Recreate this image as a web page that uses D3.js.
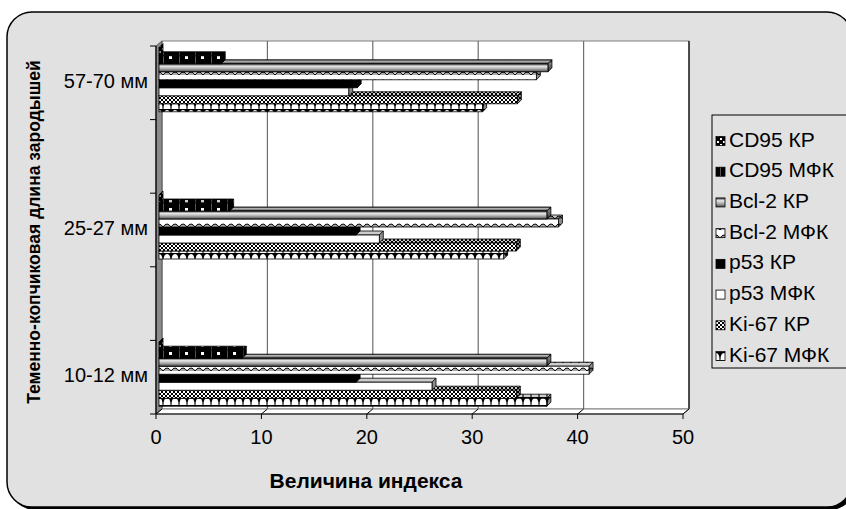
<!DOCTYPE html>
<html><head><meta charset="utf-8">
<script src="https://cdn.jsdelivr.net/npm/d3@7"></script>
<style>body{margin:0;background:#fff}svg{display:block}</style>
</head><body>
<svg id="c" width="846" height="509"></svg>
<script>
// ---- data ----
const categories = ["10-12 мм", "25-27 мм", "57-70 мм"];
const seriesNames = ["CD95 КР", "CD95 МФК", "Bcl-2 КР", "Bcl-2 МФК", "p53 КР", "p53 МФК", "Ki-67 КР", "Ki-67 МФК"];
const cd95KR  = [0, 0, 0];
const cd95MFK = [7.9, 6.7, 5.9];
const bcl2KR  = [36.8, 36.8, 36.9];
const bcl2MFK = [40.8, 37.9, 35.8];
const p53KR   = [18.7, 18.7, 18.8];
const p53MFK  = [25.9, 20.9, 18.0];
const ki67KR  = [33.9, 33.9, 34.0];
const ki67MFK = [36.8, 32.7, 30.7];
const seriesValues = [cd95KR, cd95MFK, bcl2KR, bcl2MFK, p53KR, p53MFK, ki67KR, ki67MFK];
const xTicks = [0, 10, 20, 30, 40, 50];
const xTitle = "Величина индекса";
const yTitle = "Теменно-копчиковая длина зародышей";

const svg = d3.select("#c");
const FONT = "'Liberation Sans', Arial, sans-serif";

// ---- defs / patterns ----
const defs = svg.append("defs");
function pat(id, w, h, build) {
  const p = defs.append("pattern").attr("id", id).attr("patternUnits", "userSpaceOnUse")
    .attr("width", w).attr("height", h);
  build(p); return `url(#${id})`;
}
const fills = [];
fills[0] = pat("pCD95KR", 6, 6, p => {
  p.append("rect").attr("width", 6).attr("height", 6).attr("fill", "#000");
  p.append("rect").attr("x", 0).attr("y", 0).attr("width", 2).attr("height", 2).attr("fill", "#fff");
  p.append("rect").attr("x", 3).attr("y", 3).attr("width", 2).attr("height", 2).attr("fill", "#fff");
});
fills[1] = pat("pCD95MFK", 16, 8, p => {
  p.append("rect").attr("width", 16).attr("height", 8).attr("fill", "#000");
  p.append("rect").attr("x", 6).attr("y", 3).attr("width", 3).attr("height", 3).attr("fill", "#fff");
  p.append("rect").attr("x", 0).attr("y", 0).attr("width", 1).attr("height", 8).attr("fill", "#555");
});
const g1 = defs.append("linearGradient").attr("id", "gBcl").attr("x1", 0).attr("y1", 0).attr("x2", 0).attr("y2", 1);
[[0, "#3a3a3a"], [0.3, "#e8e8e8"], [0.6, "#b0b0b0"], [1, "#4a4a4a"]].forEach(s =>
  g1.append("stop").attr("offset", s[0]).attr("stop-color", s[1]));
fills[2] = "url(#gBcl)";
fills[3] = pat("pBclMFK", 8, 8, p => {
  p.append("rect").attr("width", 8).attr("height", 8).attr("fill", "#fff");
  p.append("path").attr("d", "M0,6 Q4,0 8,6 Z").attr("fill", "#aaa");
  p.append("path").attr("d", "M0,6 Q4,0 8,6").attr("fill", "none").attr("stroke", "#000").attr("stroke-width", 1);
});
fills[4] = "#000";
fills[5] = "#fff";
fills[6] = pat("pKiKR", 4, 4, p => {
  p.append("rect").attr("width", 4).attr("height", 4).attr("fill", "#fff");
  p.append("rect").attr("x", 0).attr("y", 0).attr("width", 2).attr("height", 2).attr("fill", "#000");
  p.append("rect").attr("x", 2).attr("y", 2).attr("width", 2).attr("height", 2).attr("fill", "#000");
});
fills[7] = pat("pKiMFK", 8, 8, p => {
  p.append("rect").attr("width", 8).attr("height", 8).attr("fill", "#000");
  p.append("path").attr("d", "M0.5,8 Q0.5,1 4,1 Q7.5,1 7.5,8 Z").attr("fill", "#fff");
});

// ---- frame ----
svg.append("rect").attr("x", 10).attr("y", 15).attr("width", 845).attr("height", 495).attr("rx", 25).attr("fill", "#000");
svg.append("rect").attr("x", 7).attr("y", 12).attr("width", 845).attr("height", 495).attr("rx", 25)
  .attr("fill", "#e1e1e1").attr("stroke", "#000").attr("stroke-width", 1.5);

// ---- scales ----
const x = d3.scaleLinear().domain([0, 50]).range([156, 683]);
const yTop = 46, yBot = 414;
const DX = 6, DY = -5;        // wall depth
const y = d3.scalePoint().domain(categories.slice().reverse()).range([yTop, yBot]).padding(0.25);
const band = d3.scaleBand().domain(seriesNames).range([-32, 32]);
const BX = 3, BY = -3;        // bar plane offset
const bdx = 4, bdy = -4;      // bar depth

// back wall
svg.append("rect").attr("x", x(0) + DX).attr("y", yTop + DY).attr("width", x(50) - x(0)).attr("height", yBot - yTop)
  .attr("fill", "#fff").attr("stroke", "#808080").attr("stroke-width", 1);
// gridlines
svg.append("g").selectAll("line").data(xTicks.slice(1, -1)).join("line")
  .attr("x1", d => x(d) + DX).attr("x2", d => x(d) + DX)
  .attr("y1", yTop + DY).attr("y2", yBot + DY).attr("stroke", "#6e6e6e").attr("stroke-width", 1.2);
svg.append("line").attr("x1", x(50) + DX).attr("x2", x(50) + DX).attr("y1", yTop + DY).attr("y2", yBot + DY)
  .attr("stroke", "#000").attr("stroke-width", 1.2);
// left wall
svg.append("path").attr("d", `M${x(0)},${yTop}L${x(0) + DX},${yTop + DY}L${x(0) + DX},${yBot + DY}L${x(0)},${yBot}Z`)
  .attr("fill", "#8c8c8c").attr("stroke", "#555").attr("stroke-width", 1);
// floor
svg.append("path").attr("d", `M${x(0)},${yBot}L${x(50)},${yBot}L${x(50) + DX},${yBot + DY}L${x(0) + DX},${yBot + DY}Z`)
  .attr("fill", "#fff").attr("stroke", "#808080").attr("stroke-width", 1);
svg.append("g").selectAll("line").data(xTicks).join("line")
  .attr("x1", d => x(d)).attr("x2", d => x(d) + DX).attr("y1", yBot).attr("y2", yBot + DY)
  .attr("stroke", "#000").attr("stroke-width", 1);

// ---- bars ----
const barsG = svg.append("g").attr("transform", `translate(${BX},${BY})`);
const order = d3.range(seriesNames.length).reverse(); // bottom series first
categories.forEach((cat, ci) => {
  order.forEach(si => {
    const v = seriesValues[si][ci];
    const x0 = x(0), x1 = x(v);
    const yt = y(cat) + band(seriesNames[si]), h = band.bandwidth(), yb = yt + h;
    const g = barsG.append("g");
    const top = `M${x0},${yt}L${x1},${yt}L${x1 + bdx},${yt + bdy}L${x0 + bdx},${yt + bdy}Z`;
    const side = `M${x1},${yt}L${x1 + bdx},${yt + bdy}L${x1 + bdx},${yb + bdy}L${x1},${yb}Z`;
    g.append("path").attr("d", top).attr("fill", fills[si]);
    g.append("path").attr("d", top).attr("fill", "rgba(0,0,0,0.2)").attr("stroke", "#000").attr("stroke-width", 0.8);
    g.append("path").attr("d", side).attr("fill", fills[si]);
    g.append("path").attr("d", side).attr("fill", "rgba(0,0,0,0.45)").attr("stroke", "#000").attr("stroke-width", 0.8);
    g.append("rect").attr("x", x0).attr("y", yt).attr("width", Math.max(0, x1 - x0)).attr("height", h)
      .attr("fill", fills[si]).attr("stroke", "#000").attr("stroke-width", 0.8);
  });
});

// ---- axes ----
svg.append("line").attr("x1", x(0)).attr("x2", x(50)).attr("y1", yBot).attr("y2", yBot).attr("stroke", "#000").attr("stroke-width", 1.2);
svg.append("g").selectAll("line").data(xTicks).join("line")
  .attr("x1", d => x(d)).attr("x2", d => x(d)).attr("y1", yBot).attr("y2", yBot + 5).attr("stroke", "#000");
svg.append("g").selectAll("text").data(xTicks).join("text")
  .attr("x", d => x(d)).attr("y", 439).attr("text-anchor", "middle").attr("dominant-baseline", "middle")
  .attr("font-family", FONT).attr("font-size", 20).text(d => d);

svg.append("line").attr("x1", x(0)).attr("x2", x(0)).attr("y1", yTop).attr("y2", yBot).attr("stroke", "#000").attr("stroke-width", 1.2);
const yTickScale = d3.scaleLinear().domain([0, 5]).range([yBot, yTop]);
svg.append("g").selectAll("line").data(d3.range(6)).join("line")
  .attr("x1", x(0) - 6).attr("x2", x(0)).attr("y1", d => yTickScale(d)).attr("y2", d => yTickScale(d)).attr("stroke", "#000");
svg.append("g").selectAll("text").data(categories).join("text")
  .attr("x", 148).attr("y", d => y(d)).attr("text-anchor", "end").attr("dominant-baseline", "middle")
  .attr("font-family", FONT).attr("font-size", 20).text(d => d);

svg.append("text").attr("x", 366).attr("y", 482).attr("text-anchor", "middle").attr("dominant-baseline", "middle")
  .attr("font-family", FONT).attr("font-size", 21).attr("font-weight", "bold").text(xTitle);
svg.append("text").attr("transform", "translate(35,232) rotate(-90)").attr("text-anchor", "middle")
  .attr("dominant-baseline", "middle").attr("font-family", FONT).attr("font-size", 17.5).attr("font-weight", "bold").text(yTitle);

// ---- legend ----
const leg = svg.append("g");
leg.append("rect").attr("x", 712).attr("y", 115).attr("width", 150).attr("height", 253)
  .attr("fill", "#e1e1e1").attr("stroke", "#000").attr("stroke-width", 1);
const ly = d3.scaleLinear().domain([0, 7]).range([141, 356]);
seriesNames.forEach((n, i) => {
  leg.append("rect").attr("x", 716).attr("y", ly(i) - 4.5).attr("width", 9).attr("height", 9)
    .attr("fill", fills[i]).attr("stroke", "#000").attr("stroke-width", 0.8);
  leg.append("text").attr("x", 729).attr("y", ly(i)).attr("dominant-baseline", "middle")
    .attr("font-family", FONT).attr("font-size", 21).text(n);
});
</script>
</body></html>
